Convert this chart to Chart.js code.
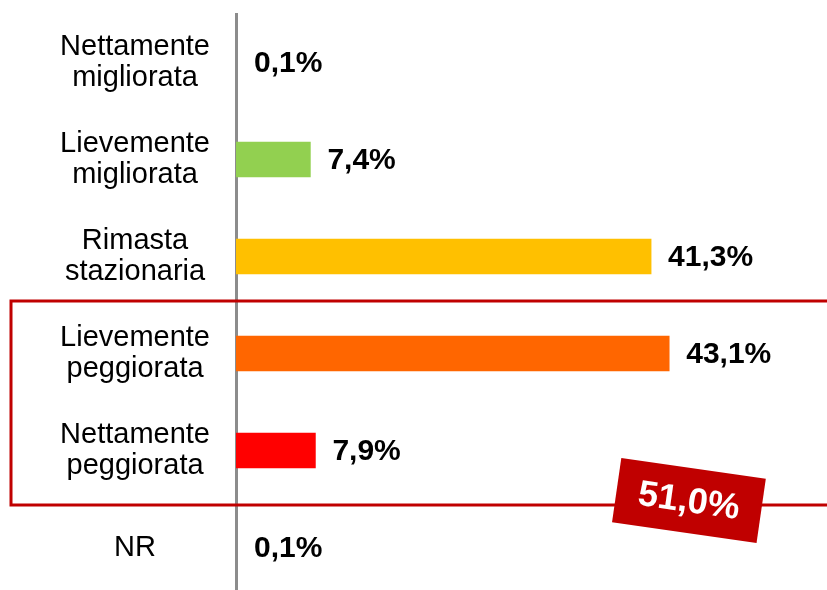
<!DOCTYPE html>
<html>
<head>
<meta charset="utf-8">
<script src="https://cdn.jsdelivr.net/npm/chart.js@4/dist/chart.umd.min.js"></script>
<style>
  html, body { margin: 0; padding: 0; background: #fff; overflow: hidden; }
  canvas { display: block; }
</style>
</head>
<body>
<canvas id="chart" width="827" height="596"></canvas>
<script>
// data
const categories = [
  ['Nettamente', 'migliorata'],
  ['Lievemente', 'migliorata'],
  ['Rimasta', 'stazionaria'],
  ['Lievemente', 'peggiorata'],
  ['Nettamente', 'peggiorata'],
  'NR'
];
const values = [0.1, 7.4, 41.3, 43.1, 7.9, 0.1];
const barColors = ['#8C8C8C', '#92D050', '#FFC000', '#FF6600', '#FF0000', '#8C8C8C'];
// rows grouped in the red box (worsened)
const boxedRows = [3, 4];

const FONT = '"Liberation Sans", Arial, sans-serif';
const fmt = (v) => v.toFixed(1).replace('.', ',') + '%';

// value labels at the end of each bar
const valueLabels = {
  id: 'valueLabels',
  afterDatasetsDraw(chart) {
    const { ctx } = chart;
    const meta = chart.getDatasetMeta(0);
    ctx.save();
    ctx.font = 'bold 30px ' + FONT;
    ctx.fillStyle = '#000';
    ctx.textAlign = 'left';
    ctx.textBaseline = 'middle';
    meta.data.forEach((bar, i) => {
      ctx.fillText(fmt(values[i]), bar.x + 17, bar.y + 1);
    });
    ctx.restore();
  }
};

// red frame around the worsened rows plus the rotated total tag
const worseBox = {
  id: 'worseBox',
  afterDraw(chart) {
    const { ctx } = chart;
    const y = chart.scales.y;
    const top = y.getPixelForValue(boxedRows[0] - 0.5) - 4;
    const bottom = y.getPixelForValue(boxedRows[boxedRows.length - 1] + 0.5) + 6;
    ctx.save();
    ctx.strokeStyle = '#C00000';
    ctx.lineWidth = 3;
    ctx.strokeRect(11, top, chart.width + 10, bottom - top);

    const total = boxedRows.reduce((s, i) => s + values[i], 0);
    ctx.translate(689, bottom - 5);
    ctx.rotate(8.2 * Math.PI / 180);
    ctx.fillStyle = '#C00000';
    ctx.fillRect(-73, -32, 146, 65);
    ctx.fillStyle = '#fff';
    ctx.font = 'bold 36px ' + FONT;
    ctx.textAlign = 'center';
    ctx.textBaseline = 'middle';
    ctx.fillText(fmt(total), 0, 2);
    ctx.restore();
  }
};

new Chart(document.getElementById('chart'), {
  type: 'bar',
  data: {
    labels: categories,
    datasets: [{
      data: values,
      backgroundColor: barColors,
      barThickness: 35,
      borderWidth: 0
    }]
  },
  options: {
    indexAxis: 'y',
    responsive: false,
    animation: false,
    layout: { padding: { top: 14, right: 0, bottom: 0, left: 0 } },
    plugins: { legend: { display: false }, tooltip: { enabled: false } },
    scales: {
      x: { display: false, min: 0, max: 58.8 },
      y: {
        afterFit: (scale) => {
          scale.width = 236;
          scale.paddingTop = 0;
          scale.paddingBottom = 0;
        },
        grid: { display: false, drawTicks: false },
        border: { display: true, color: '#8C8C8C', width: 3 },
        ticks: {
          crossAlign: 'center',
          padding: 26,
          color: '#000',
          font: { family: FONT, size: 29, lineHeight: 1.08 }
        }
      }
    }
  },
  plugins: [valueLabels, worseBox]
});
</script>
</body>
</html>
